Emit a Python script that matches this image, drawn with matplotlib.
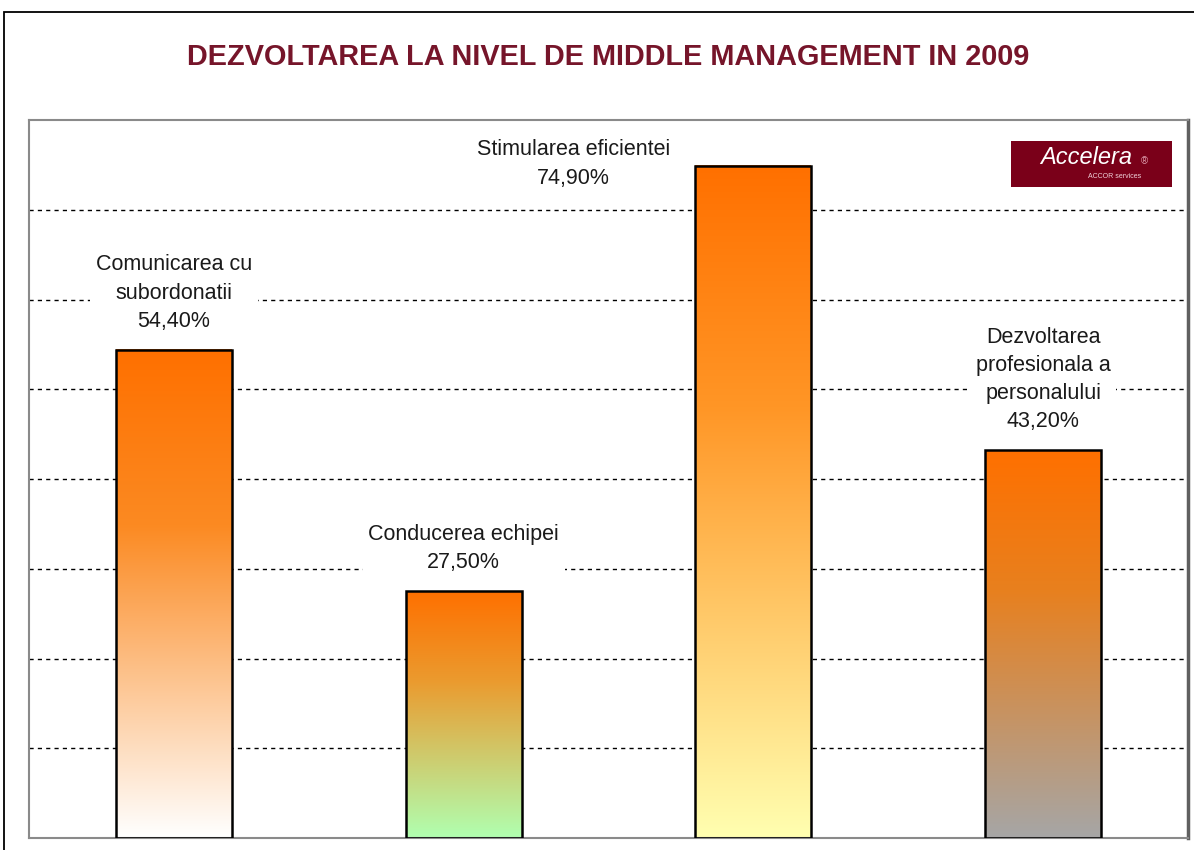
import numpy as np
import matplotlib
matplotlib.use('Agg')
import matplotlib.pyplot as plt
from matplotlib.colors import LinearSegmentedColormap
from matplotlib.patches import Rectangle

#----------Data----------#

categories = ['Comunicarea cu\nsubordonatii', 'Conducerea echipei', 'Stimularea eficientei',
              'Dezvoltarea\nprofesionala a\npersonalului']
values = [54.4, 27.5, 74.9, 43.2]
bottom_colours = ['#ffffff', '#b0ffb0', '#ffffb0', '#a6a6a6']
mid_colours = ['#fb8a22', '#eb9a2e', '#ff9626', '#e8801e']
title = 'DEZVOLTAREA LA NIVEL DE MIDDLE MANAGEMENT IN 2009'

#----------Figure----------#

plt.rcParams['font.family'] = ['Liberation Sans', 'DejaVu Sans']

fig = plt.figure(figsize=(11.94, 8.5), dpi=100)
ax = fig.add_axes([29 / 1194, 12 / 850, 1159 / 1194, 718 / 850])

# outer frame of the chart object
fig.patches.append(Rectangle((4 / 1194, -0.1), 1.2, 1.1 - 12 / 850, transform=fig.transFigure,
                             fill=False, edgecolor='black', linewidth=1.3))

fig.text(608 / 1194, 1 - 57 / 850, title, ha='center', va='center', fontsize=20.8,
         fontweight='bold', color='#76152a')

ax.set_xlim(-0.5, 3.5)
ax.set_ylim(0, 80)
ax.set_xticks([])
ax.set_yticks([])
for y in range(10, 80, 10):
    ax.axhline(y, color='black', linestyle=(0, (3, 3)), linewidth=1, zorder=0)
for side in ['left', 'top', 'bottom']:
    ax.spines[side].set_color('#8a8a8a')
    ax.spines[side].set_linewidth(1.5)
ax.spines['right'].set_color('#606060')
ax.spines['right'].set_linewidth(2.5)

width = 0.4
grad = np.linspace(0, 1, 256).reshape(-1, 1)
for i, v in enumerate(values):
    cmap = LinearSegmentedColormap.from_list('b%d' % i, [(0, '#ff7000'), (0.36, mid_colours[i]),
                                                          (1, bottom_colours[i])])
    ax.imshow(grad, cmap=cmap, extent=[i - width / 2, i + width / 2, 0, v], origin='upper',
              aspect='auto', zorder=2)
    ax.add_patch(Rectangle((i - width / 2, 0), width, v, fill=False, edgecolor='black',
                           linewidth=1.8, zorder=3))

# data labels
box = dict(facecolor='white', edgecolor='none', pad=4)
for i, v in enumerate(values):
    label = categories[i] + '\n' + ('%.2f%%' % v).replace('.', ',')
    if i == 2:
        ax.text(1.38, 75.1, label, ha='center', va='center', fontsize=15.5, color='#1a1a1a',
                linespacing=1.45, bbox=box, zorder=4)
    else:
        ax.text(i, v + 2.0, label, ha='center', va='bottom', fontsize=15.5, color='#1a1a1a',
                linespacing=1.45, bbox=box, zorder=4)

# logo box
ax.add_patch(Rectangle((0.847, 0.907), 0.139, 0.064, transform=ax.transAxes,
                       facecolor='#7a0019', edgecolor='none', zorder=4))
ax.text(0.912, 0.948, 'Accelera', transform=ax.transAxes, ha='center', va='center',
        fontsize=17, style='italic', color='white', zorder=5)
ax.text(0.962, 0.943, '®', transform=ax.transAxes, ha='center', va='center',
        fontsize=7, color='#e0a0b0', zorder=5)
ax.text(0.937, 0.922, 'ACCOR services', transform=ax.transAxes, ha='center', va='center',
        fontsize=5, color='#f0d0d8', zorder=5)

plt.savefig('out.png', dpi=100)
